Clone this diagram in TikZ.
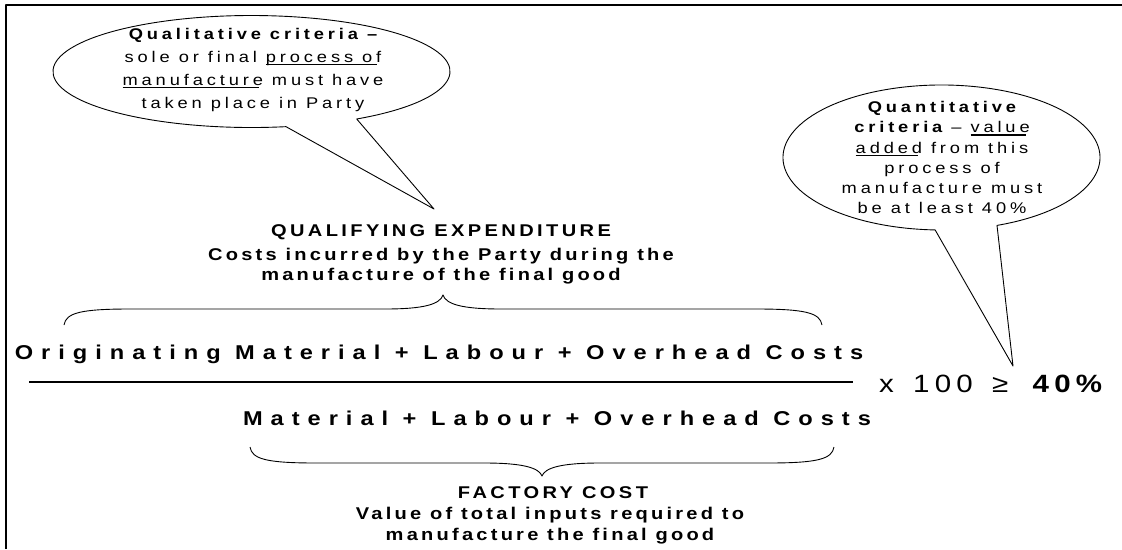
\documentclass[tikz,border=0pt]{standalone}
\usepackage{fontspec}
\setmainfont{Liberation Sans}

% wide, letter-spaced text: size, letter spacing and extra word spacing (percent of the em)
\newcommand\spacedfont[3]{\fontsize{#1}{#1}\selectfont
  \addfontfeatures{FakeStretch=1.18,LetterSpace=#2}%
  \spaceskip=\dimexpr\fontdimen2\font+#3em/100\relax}

% underline at a fixed depth, stopping at the last letter
\newsavebox\ulbox
\newcommand\ulword[1]{\sbox\ulbox{#1}\rlap{\rule[-2.6pt]{\dimexpr\wd\ulbox-0.25em\relax}{1.1pt}}\usebox\ulbox}

\tikzset{
  bigterm/.style={font=\bfseries\spacedfont{20}{40}{0}, inner sep=0pt, anchor=base},
  captitle/.style={font=\bfseries\spacedfont{17}{20}{0}, inner sep=0pt, anchor=base},
  capline/.style={font=\bfseries\spacedfont{17}{19}{0}, inner sep=0pt, anchor=base},
  balloontext/.style={font=\spacedfont{15.5}{25}{0}, inner sep=0pt, anchor=base},
  ratio/.style={font=\spacedfont{25}{21}{23}, inner sep=0pt, anchor=base west},
  balloon/.style={draw, line width=0.9pt, fill=white},
  bracepath/.style={line width=0.9pt},
  framepath/.style={line width=2pt},
  barpath/.style={line width=1.1pt}
}

\begin{document}
\begin{tikzpicture}[x=1pt, y=1pt, line join=round]
\fill[white] (0,0) rectangle (1122,-549);
\useasboundingbox (0,0) rectangle (1122,-549);

% frame
\coordinate (fbl) at (6,-549);
\coordinate (ftl) at (6,-5);
\coordinate (ftr) at (1122,-5);
\draw[framepath] (fbl) -- (ftl) -- (ftr);

% qualitative balloon
\coordinate (qtip) at (434,-209);
\draw[balloon] (356.7,-119.0) arc[start angle=-58, end angle=280, x radius=198.5, y radius=56]
  -- (qtip) -- cycle;
\node[balloontext] (q1) at (253,-39.5) {\bfseries Qualitative criteria –};
\node[balloontext] (q2) at (253,-62.5) {sole or final \ulword{process of}};
\node[balloontext] (q3) at (253,-85.5) {\ulword{manufacture} must have};
\node[balloontext] (q4) at (253,-108.5) {taken place in Party};

% quantitative balloon
\coordinate (ntip) at (1013,-366);
\draw[balloon] (997,-225.4) arc[start angle=-69.5, end angle=267.7, x radius=158.5, y radius=72.5]
  -- (ntip) -- cycle;
\node[balloontext] (n1) at (942,-112.7) {\bfseries Quantitative};
\node[balloontext] (n2) at (942,-132.9) {\bfseries criteria \mdseries – \ulword{value}};
\node[balloontext] (n3) at (942,-153.1) {\ulword{added} from this};
\node[balloontext] (n4) at (942,-173.3) {process of};
\node[balloontext] (n5) at (942,-193.5) {manufacture must};
\node[balloontext] (n6) at (942,-213.7) {be at least 40\%};

% qualifying expenditure caption
\node[captitle] (qe) at (441,-236) {QUALIFYING EXPENDITURE};
\node[capline] (qe1) at (441,-260) {Costs incurred by the Party during the};
\node[capline] (qe2) at (441,-280.5) {manufacture of the final good};

% brace over the numerator
\coordinate (ub0) at (64,-325);
\coordinate (ubt) at (443,-295);
\coordinate (ub1) at (822,-325);
\draw[bracepath] (ub0) .. controls (66,-313) and (80,-309) .. (130,-309) -- (385,-309)
  .. controls (425,-309) and (440,-304) .. (ubt)
  .. controls (446,-304) and (461,-309) .. (501,-309) -- (756,-309)
  .. controls (806,-309) and (820,-313) .. (ub1);

% the ratio
\node[bigterm] (num) at (439,-359) {Originating Material + Labour + Overhead Costs};
\coordinate (bar0) at (29,-382);
\coordinate (bar1) at (853,-382);
\draw[barpath] (bar0) -- (bar1);
\node[bigterm] (den) at (557,-425) {Material + Labour + Overhead Costs};
\node[ratio] (cmp) at (879,-392) {x 100 ≥ \textbf{40\%}};

% brace under the denominator
\coordinate (lb0) at (250,-447);
\coordinate (lbt) at (542,-476);
\coordinate (lb1) at (834,-447);
\draw[bracepath] (lb0) .. controls (252,-459) and (266,-463) .. (316,-463) -- (484,-463)
  .. controls (524,-463) and (539,-468) .. (lbt)
  .. controls (545,-468) and (560,-463) .. (600,-463) -- (768,-463)
  .. controls (818,-463) and (832,-459) .. (lb1);

% factory cost caption
\node[captitle] (fc) at (553,-498) {FACTORY COST};
\node[capline] (fc1) at (550,-519) {Value of total inputs required to};
\node[capline] (fc2) at (550,-540) {manufacture the final good};
\end{tikzpicture}
\end{document}
